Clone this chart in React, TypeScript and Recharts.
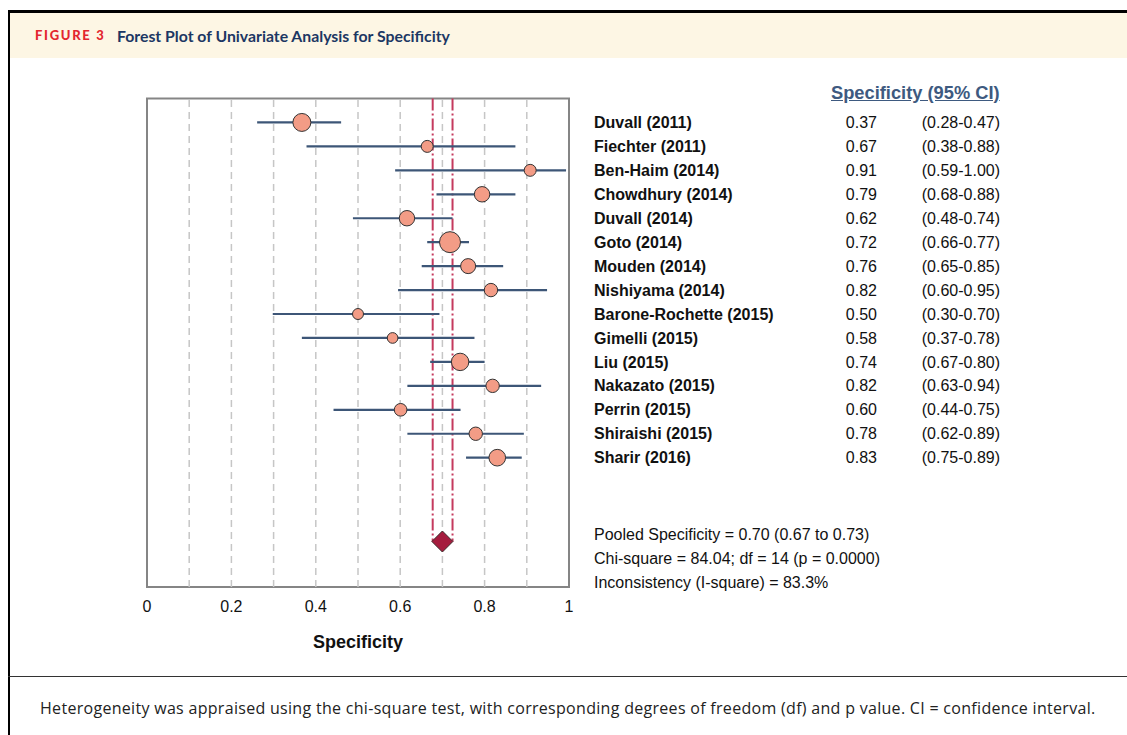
import React from 'react';
import {
  ScatterChart, Scatter, XAxis, YAxis, ZAxis, ReferenceLine, ReferenceArea, Label,
} from 'recharts';

// ---------- data ----------
const studies = [
  'Duvall (2011)', 'Fiechter (2011)', 'Ben-Haim (2014)', 'Chowdhury (2014)', 'Duvall (2014)',
  'Goto (2014)', 'Mouden (2014)', 'Nishiyama (2014)', 'Barone-Rochette (2015)', 'Gimelli (2015)',
  'Liu (2015)', 'Nakazato (2015)', 'Perrin (2015)', 'Shiraishi (2015)', 'Sharir (2016)',
];
const estimates = [0.367, 0.664, 0.908, 0.794, 0.616, 0.718, 0.761, 0.815, 0.5, 0.582, 0.742, 0.819, 0.601, 0.779, 0.83];
const ciLow = [0.261, 0.378, 0.588, 0.686, 0.488, 0.664, 0.651, 0.595, 0.298, 0.367, 0.671, 0.617, 0.442, 0.617, 0.756];
const ciHigh = [0.46, 0.873, 0.993, 0.873, 0.724, 0.763, 0.844, 0.948, 0.693, 0.776, 0.8, 0.934, 0.743, 0.893, 0.888];
const weights = [9.9, 4.4, 4.4, 7.3, 7.3, 13.5, 6.9, 5.5, 3.7, 3.5, 9.3, 5.5, 4.9, 5.5, 8.5];
const specLabels = ['0.37', '0.67', '0.91', '0.79', '0.62', '0.72', '0.76', '0.82', '0.50', '0.58', '0.74', '0.82', '0.60', '0.78', '0.83'];
const ciLabels = [
  '(0.28-0.47)', '(0.38-0.88)', '(0.59-1.00)', '(0.68-0.88)', '(0.48-0.74)', '(0.66-0.77)', '(0.65-0.85)',
  '(0.60-0.95)', '(0.30-0.70)', '(0.37-0.78)', '(0.67-0.80)', '(0.63-0.94)', '(0.44-0.75)', '(0.62-0.89)', '(0.75-0.89)',
];
const pooledEstimate = 0.7;
const pooledLow = 0.677;
const pooledHigh = 0.724;
const pooledRow = 17.5;
const xTicks = [0, 0.2, 0.4, 0.6, 0.8, 1];
const gridValues = [0.1, 0.2, 0.3, 0.4, 0.5, 0.6, 0.7, 0.8, 0.9];
const statsLines = [
  'Pooled Specificity = 0.70 (0.67 to 0.73)',
  'Chi-square = 84.04; df = 14 (p = 0.0000)',
  'Inconsistency (I-square) = 83.3%',
];
const yDomain = [-1, 19.4];

// ---------- styles ----------
const ARIAL = '"Liberation Sans", Arial, Helvetica, sans-serif';
const rowTicks = studies.map((_, i) => i);
const points = studies.map((_, i) => ({ x: estimates[i], y: i, w: weights[i] }));
const pooledPoint = [{ x: pooledEstimate, y: pooledRow }];

function StudyTick(props: any) {
  const { x, y, payload } = props;
  const i = payload.value as number;
  return (
    <g fontFamily={ARIAL} fontSize={16} fill="#111">
      <text x={x + 25} y={y} dy="0.35em" fontWeight="bold">{studies[i]}</text>
      <text x={x + 308} y={y} dy="0.35em" textAnchor="end">{specLabels[i]}</text>
      <text x={x + 431} y={y} dy="0.35em" textAnchor="end">{ciLabels[i]}</text>
    </g>
  );
}

function Diamond(props: any) {
  const { cx, cy } = props;
  const h = 10.5;
  return (
    <polygon
      points={`${cx},${cy - h} ${cx + h},${cy} ${cx},${cy + h} ${cx - h},${cy}`}
      fill="#a51c3e" stroke="#3a2a2a" strokeWidth={1}
    />
  );
}

const fmt = (v: number) => (v === 0 ? '0' : v === 1 ? '1' : String(v));

export default function App() {
  return (
    <div style={{ position: 'absolute', left: 0, top: 0, width: 1127, height: 735, background: '#fff', overflow: 'hidden' }}>
      {/* frame */}
      <div style={{ position: 'absolute', left: 8, top: 10, width: 1130, height: 740, borderTop: '3px solid #000', borderLeft: '2px solid #000', boxSizing: 'border-box' }} />
      <div style={{ position: 'absolute', left: 10, top: 13, width: 1117, height: 45, background: '#fdf6e4' }} />
      <div style={{ position: 'absolute', left: 35, top: 27, fontFamily: 'Lato, sans-serif', fontWeight: 900, fontSize: 13, letterSpacing: 1.7, color: '#e3262f', whiteSpace: 'nowrap' }}>FIGURE 3</div>
      <div style={{ position: 'absolute', left: 117, top: 26, fontFamily: 'Lato, sans-serif', fontWeight: 700, fontSize: 15.8, color: '#1c3763', whiteSpace: 'nowrap' }}>Forest Plot of Univariate Analysis for Specificity</div>
      <div style={{ position: 'absolute', left: 8, top: 676, width: 1119, height: 0, borderTop: '1.5px solid #333' }} />
      <div style={{ position: 'absolute', left: 40, top: 697, fontFamily: '"Open Sans", sans-serif', fontSize: 16, letterSpacing: 0.3, color: '#222', whiteSpace: 'nowrap' }}>Heterogeneity was appraised using the chi-square test, with corresponding degrees of freedom (df) and p value. CI = confidence interval.</div>

      {/* table header */}
      <div style={{ position: 'absolute', left: 831, top: 82, fontFamily: ARIAL, fontWeight: 'bold', fontSize: 18.3, color: '#3e5a80', textDecoration: 'underline', whiteSpace: 'nowrap' }}>Specificity (95% CI)</div>
      {/* stats */}
      {statsLines.map((s, i) => (
        <div key={s} style={{ position: 'absolute', left: 594, top: 526 + i * 24, fontFamily: ARIAL, fontSize: 16, color: '#111', whiteSpace: 'nowrap' }}>{s}</div>
      ))}

      <div style={{ position: 'absolute', left: 0, top: 0 }}>
        <ScatterChart width={1127} height={680} margin={{ top: 98.5, left: 147, right: 117, bottom: 33 }}>
          <XAxis
            type="number" dataKey="x" domain={[0, 1]} ticks={xTicks} tickFormatter={fmt}
            axisLine={false} tickLine={false} height={60} tickMargin={8}
            tick={{ fontFamily: ARIAL, fontSize: 16, fill: '#111' }} interval={0}
          >
            <Label value="Specificity" position="insideBottom" offset={-1}
              style={{ fontFamily: ARIAL, fontSize: 18, fontWeight: 'bold', fill: '#111' }} />
          </XAxis>
          <YAxis
            type="number" dataKey="y" domain={yDomain} reversed orientation="right" ticks={rowTicks}
            width={441} axisLine={false} tickLine={false} tickSize={0} tickMargin={0} interval={0}
            tick={<StudyTick />}
          />
          <ZAxis type="number" dataKey="w" domain={[0, 13.5]} range={[0, 346]} />
          {gridValues.map((g) => (
            <ReferenceLine key={g} x={g} stroke="#c6c6c6" strokeWidth={1.5} strokeDasharray="7 5" />
          ))}
          <ReferenceArea x1={0} x2={1} y1={yDomain[0]} y2={yDomain[1]} fill="none" stroke="#858585" strokeWidth={2} fillOpacity={0} />
          <ReferenceLine segment={[{ x: pooledLow, y: yDomain[0] }, { x: pooledLow, y: pooledRow }]} stroke="#c53a5e" strokeWidth={2} strokeDasharray="12 3 2 3" />
          <ReferenceLine segment={[{ x: pooledHigh, y: yDomain[0] }, { x: pooledHigh, y: pooledRow }]} stroke="#c53a5e" strokeWidth={2} strokeDasharray="12 3 2 3" />
          <Scatter data={points} fill="#f39c86" stroke="#333" strokeWidth={1} isAnimationActive={false} />
          {studies.map((s, i) => (
            <ReferenceLine key={s} segment={[{ x: ciLow[i], y: i }, { x: ciHigh[i], y: i }]} stroke="#3d5677" strokeWidth={2.2} />
          ))}
          <Scatter data={pooledPoint} shape={<Diamond />} isAnimationActive={false} />
        </ScatterChart>
      </div>
    </div>
  );
}
